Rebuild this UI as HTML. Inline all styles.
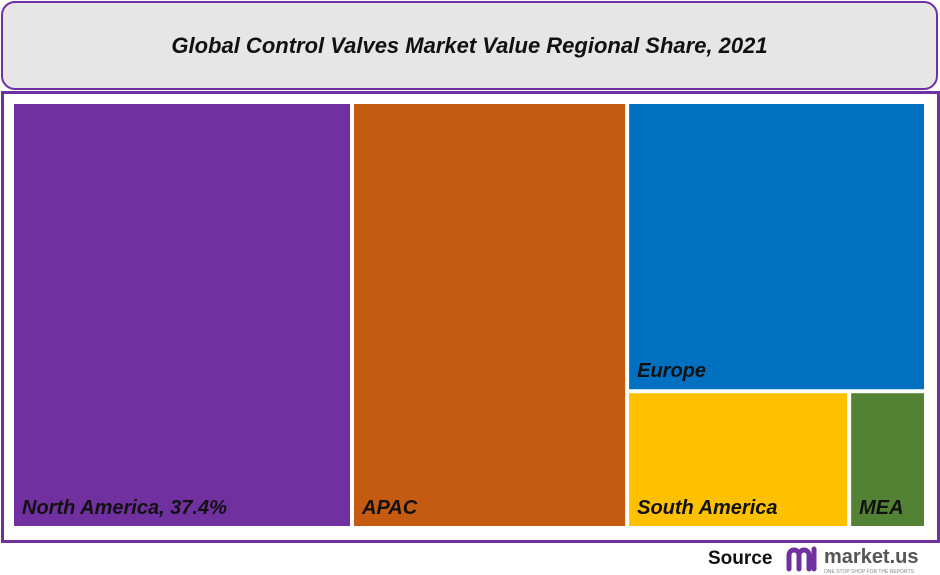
<!DOCTYPE html>
<html><head><meta charset="utf-8"><style>
body{margin:0;width:940px;height:575px;background:#fff;font-family:"Liberation Sans",sans-serif;position:relative;overflow:hidden}
#title{position:absolute;left:1px;top:1px;width:933px;height:85px;border:2px solid #7030a0;border-radius:14px;background:#e6e6e6;display:flex;align-items:center;justify-content:center;font-weight:bold;font-style:italic;font-size:22px;color:#111}
#frame{position:absolute;left:1px;top:91px;width:933px;height:446px;border:3px solid #7030a0;background:#fff}
#source{position:absolute;left:708px;top:548px;font-weight:bold;font-size:19px;color:#111}
#logo{position:absolute;left:786px;top:543px}
</style></head><body>
<div id="title">Global Control Valves Market Value Regional Share, 2021</div>
<div id="frame"></div>
<svg id="tm" width="940" height="575" style="position:absolute;left:0;top:0"></svg>
<div id="source">Source</div>
<svg id="logo" width="152" height="32">
<path d="M3 26 V12 a5 5 0 0 1 10 0 V26 M13 12 a5 5 0 0 1 10 0 V26 M28 6 V26" stroke="#7030a0" stroke-width="5" fill="none" stroke-linecap="round"/>
<text x="38" y="20" font-family="Liberation Sans" font-weight="bold" font-size="20" fill="#555">market.us</text>
<text x="38" y="30" font-family="Liberation Sans" font-size="5" fill="#888">ONE STOP SHOP FOR THE REPORTS</text>
</svg>
<script>
const categories=["North America, 37.4%","APAC","Europe","South America","MEA"];
const values=[37.2,30.1,22.2,7.8,2.7];
const colors=["#7030a0","#c55a11","#0070c0","#ffc000","#548235"];
const X0=14,Y0=104,W=910,H=422,G=4;
const total=values.reduce((a,b)=>a+b,0);
const svg=document.getElementById('tm');
const NS="http://www.w3.org/2000/svg";
function draw(i,x,y,w,h){
  const r=document.createElementNS(NS,'rect');
  r.setAttribute('x',x);r.setAttribute('y',y);
  r.setAttribute('width',Math.max(0,w-G));r.setAttribute('height',Math.max(0,h-G));
  r.setAttribute('fill',colors[i]);
  
  
  svg.appendChild(r);
  const t=document.createElementNS(NS,'text');
  t.setAttribute('x',x+8);t.setAttribute('y',y+h-G-12);
  t.setAttribute('font-family','Liberation Sans');t.setAttribute('font-weight','bold');
  t.setAttribute('font-style','italic');t.setAttribute('font-size','20');t.setAttribute('fill','#111');
  t.textContent=categories[i];
  
  
  svg.appendChild(t);
}
const Wt=W+G,Ht=H+G;
let x=X0;
const w0=Wt*values[0]/total; draw(0,x,Y0,w0,Ht); x+=w0;
const w1=Wt*values[1]/total; draw(1,x,Y0,w1,Ht); x+=w1;
const rest=values[2]+values[3]+values[4];
const wr=X0+Wt-x;
const h2=Ht*values[2]/rest; draw(2,x,Y0,wr,h2);
const bottom=values[3]+values[4];
const w3=wr*values[3]/bottom; draw(3,x,Y0+h2,w3,Ht-h2);
draw(4,x+w3,Y0+h2,wr-w3,Ht-h2);
</script>
</body></html>
